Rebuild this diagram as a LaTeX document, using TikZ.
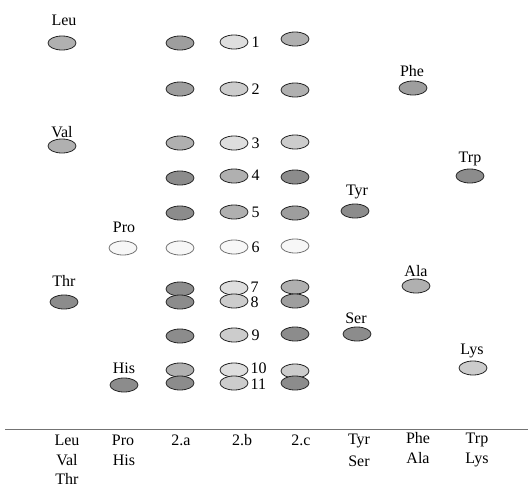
\documentclass[tikz,border=0pt]{standalone}
\usepackage{fontspec}
\setmainfont{Liberation Serif}
\usetikzlibrary{shapes.geometric}
\definecolor{cdk}{gray}{0.55}
\definecolor{cmdk}{gray}{0.62}
\definecolor{cmd}{gray}{0.69}
\definecolor{clt}{gray}{0.80}
\definecolor{cltt}{gray}{0.87}
\definecolor{cwh}{gray}{0.97}
\tikzset{
  spot/.style={ellipse, draw=black!85, line width=0.8pt, minimum width=28pt, minimum height=14pt, inner sep=0pt},
  dk/.style={spot, fill=cdk},
  mdk/.style={spot, fill=cmdk},
  md/.style={spot, fill=cmd},
  lt/.style={spot, fill=clt},
  ltt/.style={spot, fill=cltt},
  wh/.style={spot, fill=cwh, draw=black!55},
  lab/.style={font=\fontsize{16}{19}\selectfont, inner sep=0pt, anchor=base},
  num/.style={font=\fontsize{16}{19}\selectfont, inner sep=0pt, anchor=west},
}
\begin{document}
\begin{tikzpicture}[x=1pt,y=-1pt]
\useasboundingbox (0,0) rectangle (528,488);
% left standards
\node[lab] (tLeu) at (64,25) {Leu};
\node[md] (sLeu) at (62,43) {};
\node[lab] (tVal) at (62,137) {Val};
\node[md] (sVal) at (62,146) {};
\node[lab] (tThr) at (64,286) {Thr};
\node[dk] (sThr) at (64,302) {};
\node[lab] (tPro) at (124,232) {Pro};
\node[wh] (sPro) at (123,248) {};
\node[lab] (tHis) at (124,373) {His};
\node[dk] (sHis) at (124,385) {};
% column 2.a
\node[mdk] (a1) at (180,43) {};
\node[mdk] (a2) at (180,89) {};
\node[md] (a3) at (180,143) {};
\node[dk] (a4) at (180,178) {};
\node[dk] (a5) at (180,213) {};
\node[wh] (a6) at (180,248) {};
\node[dk] (a7) at (180,289) {};
\node[dk] (a8) at (180,302) {};
\node[dk] (a9) at (180,336) {};
\node[md] (a10) at (180,370) {};
\node[dk] (a11) at (180,383) {};
% column 2.b
\node[ltt] (b1) at (234,42) {};
\node[lt] (b2) at (234,89) {};
\node[ltt] (b3) at (234,143) {};
\node[md] (b4) at (234,176) {};
\node[md] (b5) at (234,212) {};
\node[wh] (b6) at (234,247) {};
\node[ltt] (b7) at (234,288) {};
\node[lt] (b8) at (234,301) {};
\node[lt] (b9) at (234,335) {};
\node[ltt] (b10) at (234,370) {};
\node[lt] (b11) at (234,383) {};
\node[num] (n1) at ([xshift=3pt]b1.east) {1};
\node[num] (n2) at ([xshift=3pt]b2.east) {2};
\node[num] (n3) at ([xshift=3pt]b3.east) {3};
\node[num] (n4) at ([xshift=3pt,yshift=1pt]b4.east) {4};
\node[num] (n5) at ([xshift=3pt]b5.east) {5};
\node[num] (n6) at ([xshift=3pt]b6.east) {6};
\node[num] (n7) at ([xshift=2pt,yshift=0.5pt]b7.east) {7};
\node[num] (n8) at ([xshift=2pt,yshift=-1.5pt]b8.east) {8};
\node[num] (n9) at ([xshift=3pt]b9.east) {9};
\node[num] (n10) at ([xshift=2pt,yshift=1.5pt]b10.east) {10};
\node[num] (n11) at ([xshift=2pt,yshift=-1pt]b11.east) {11};
% column 2.c
\node[md] (c1) at (295,39) {};
\node[md] (c2) at (295,90) {};
\node[lt] (c3) at (295,142) {};
\node[dk] (c4) at (295,177) {};
\node[mdk] (c5) at (295,213) {};
\node[wh] (c6) at (295,246) {};
\node[md] (c7) at (295,287) {};
\node[mdk] (c8) at (295,301) {};
\node[dk] (c9) at (295,334) {};
\node[lt] (c10) at (295,371) {};
\node[dk] (c11) at (295,383) {};
% right standards
\node[lab] (tTyr) at (357,195) {Tyr};
\node[dk] (sTyr) at (355,211) {};
\node[lab] (tSer) at (356,323) {Ser};
\node[dk] (sSer) at (357,334) {};
\node[lab] (tPhe) at (412,76) {Phe};
\node[mdk] (sPhe) at (413,88) {};
\node[lab] (tAla) at (416,276) {Ala};
\node[md] (sAla) at (416,286) {};
\node[lab] (tTrp) at (470,162) {Trp};
\node[dk] (sTrp) at (470,176) {};
\node[lab] (tLys) at (472,354) {Lys};
\node[lt] (sLys) at (473,368) {};
% baseline
\coordinate (L0) at (5,429);
\coordinate (L1) at (528,429);
\draw[black!55, line width=0.6pt] (L0) -- (L1);
% bottom labels
\node[lab] (bLeu) at (67,445) {Leu};
\node[lab] (bVal) at (67,465) {Val};
\node[lab] (bThr) at (67,484) {Thr};
\node[lab] (bPro) at (123,445) {Pro};
\node[lab] (bHis) at (124,465) {His};
\node[lab] (b2a) at (181,445) {2.a};
\node[lab] (b2b) at (242,445) {2.b};
\node[lab] (b2c) at (301,445) {2.c};
\node[lab] (bTyr) at (359,444) {Tyr};
\node[lab] (bSer) at (359,466) {Ser};
\node[lab] (bPhe) at (418,443) {Phe};
\node[lab] (bAla) at (418,463) {Ala};
\node[lab] (bTrp) at (477,443) {Trp};
\node[lab] (bLys) at (477,463) {Lys};
\end{tikzpicture}
\end{document}
